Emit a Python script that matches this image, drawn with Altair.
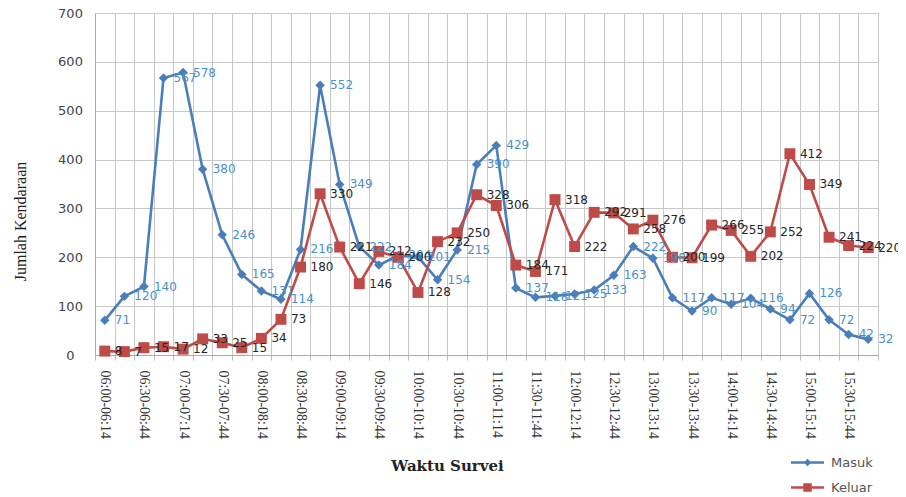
import altair as alt
import pandas as pd

waktu = [
    "06:00-06:14", "06:15-06:29", "06:30-06:44", "06:45-06:59",
    "07:00-07:14", "07:15-07:29", "07:30-07:44", "07:45-07:59",
    "08:00-08:14", "08:15-08:29", "08:30-08:44", "08:45-08:59",
    "09:00-09:14", "09:15-09:29", "09:30-09:44", "09:45-09:59",
    "10:00-10:14", "10:15-10:29", "10:30-10:44", "10:45-10:59",
    "11:00-11:14", "11:15-11:29", "11:30-11:44", "11:45-11:59",
    "12:00-12:14", "12:15-12:29", "12:30-12:44", "12:45-12:59",
    "13:00-13:14", "13:15-13:29", "13:30-13:44", "13:45-13:59",
    "14:00-14:14", "14:15-14:29", "14:30-14:44", "14:45-14:59",
    "15:00-15:14", "15:15-15:29", "15:30-15:44", "15:45-15:59",
]

masuk = [71, 120, 140, 567, 578, 380, 246, 165, 131, 114,
         216, 552, 349, 222, 184, 204, 201, 154, 215, 390,
         429, 137, 118, 121, 125, 133, 163, 222, 198, 117,
         90, 117, 104, 116, 94, 72, 126, 72, 42, 32]

keluar = [8, 7, 15, 17, 12, 33, 25, 15, 34, 73,
          180, 330, 221, 146, 212, 200, 128, 232, 250, 328,
          306, 184, 171, 318, 222, 292, 291, 258, 276, 200,
          199, 266, 255, 202, 252, 412, 349, 241, 224, 220]

seri_nama = ["Masuk", "Keluar"]
warna_garis = ["#4A7EBB", "#BE4B48"]
warna_label = ["#4A90CC", "#262626"]
bentuk = ["diamond", "square"]
ukuran = [90, 120]
legend_paths = [
    "M-3.3,-0.25H3.3V0.25H-3.3Z M0,-0.75L0.75,0L0,0.75L-0.75,0Z",
    "M-3.3,-0.25H3.3V0.25H-3.3Z M-0.85,-0.85H0.85V0.85H-0.85Z",
]

df = pd.DataFrame({
    "waktu": waktu * 2,
    "seri": [seri_nama[0]] * len(masuk) + [seri_nama[1]] * len(keluar),
    "nilai": masuk + keluar,
})

GRID = "#c8c8c8"

X = alt.X(
    "waktu:O",
    sort=waktu,
    scale=alt.Scale(type="band", paddingInner=0, paddingOuter=0),
    bandPosition=0.5,
    axis=alt.Axis(
        title="Waktu Survei",
        tickBand="extent",
        labelAngle=90,
        labelExpr="(slice(datum.label,3,5)=='00' || slice(datum.label,3,5)=='30') ? datum.label : ''",
        labelOverlap=False,
        labelFont="Liberation Serif",
        labelFontSize=14,
        labelColor="#333333",
        labelPadding=10,
        tickSize=5,
        tickColor="#bbbbbb",
        domainColor="#aaaaaa",
        grid=True,
        gridColor=GRID,
        titleFont="DejaVu Serif",
        titleFontWeight="bold",
        titleFontSize=15,
        titleColor="#222222",
        titleX=352,
        titleY=110,
        titleAlign="center",
        titleBaseline="middle",
    ),
)

Y = alt.Y(
    "nilai:Q",
    scale=alt.Scale(domain=[0, 700], nice=False),
    axis=alt.Axis(
        values=[0, 100, 200, 300, 400, 500, 600, 700],
        title="Jumlah Kendaraan",
        titleFont="Liberation Serif",
        titleFontSize=16,
        titleFontWeight="normal",
        titleColor="#222222",
        titleX=-75,
        titleY=208,
        titleAlign="center",
        titleBaseline="middle",
        labelFont="DejaVu Sans",
        labelFontSize=13,
        labelColor="#444444",
        labelAlign="center",
        labelPadding=25,
        ticks=False,
        domainColor="#aaaaaa",
        gridColor=GRID,
    ),
)

base = alt.Chart(df)
lines_pts = []
texts = []
for i, s in enumerate(seri_nama):
    b = base.transform_filter(alt.datum.seri == s)
    lines_pts.append(
        b.mark_line(color=warna_garis[i], strokeWidth=2.6).encode(x=X, y=Y)
    )
    lines_pts.append(
        b.mark_point(shape=bentuk[i], filled=True, size=ukuran[i],
                     color=warna_garis[i], opacity=1).encode(x=X, y=Y)
    )
    texts.append(
        b.mark_text(align="left", baseline="middle", dx=10,
                    font="DejaVu Sans", fontSize=12,
                    color=warna_label[i]).encode(x=X, y=Y, text="nilai:Q")
    )

LEG = alt.Legend(
    title=None,
    orient="none",
    legendX=706,
    legendY=443,
    symbolOpacity=1,
    symbolSize=100,
    symbolStrokeWidth=0,
    labelOffset=17,
    labelFont="DejaVu Sans",
    labelFontSize=13,
    labelColor="#555555",
    rowPadding=11,
    padding=0,
)

legend_layer = base.mark_point(filled=True, opacity=0).encode(
    x=X,
    y=Y,
    color=alt.Color("seri:N", scale=alt.Scale(domain=seri_nama, range=warna_garis), legend=LEG),
    shape=alt.Shape("seri:N", scale=alt.Scale(domain=seri_nama, range=legend_paths), legend=LEG),
)

chart = alt.layer(*lines_pts, *texts, legend_layer).properties(
    width=783,
    height=342,
    autosize=alt.AutoSizeParams(type="none"),
    padding={"left": 87, "top": 5, "right": 20, "bottom": 140},
).configure_view(stroke="#bfbfbf")

chart.save("out.html", embed_options={"renderer": "svg", "actions": False})
